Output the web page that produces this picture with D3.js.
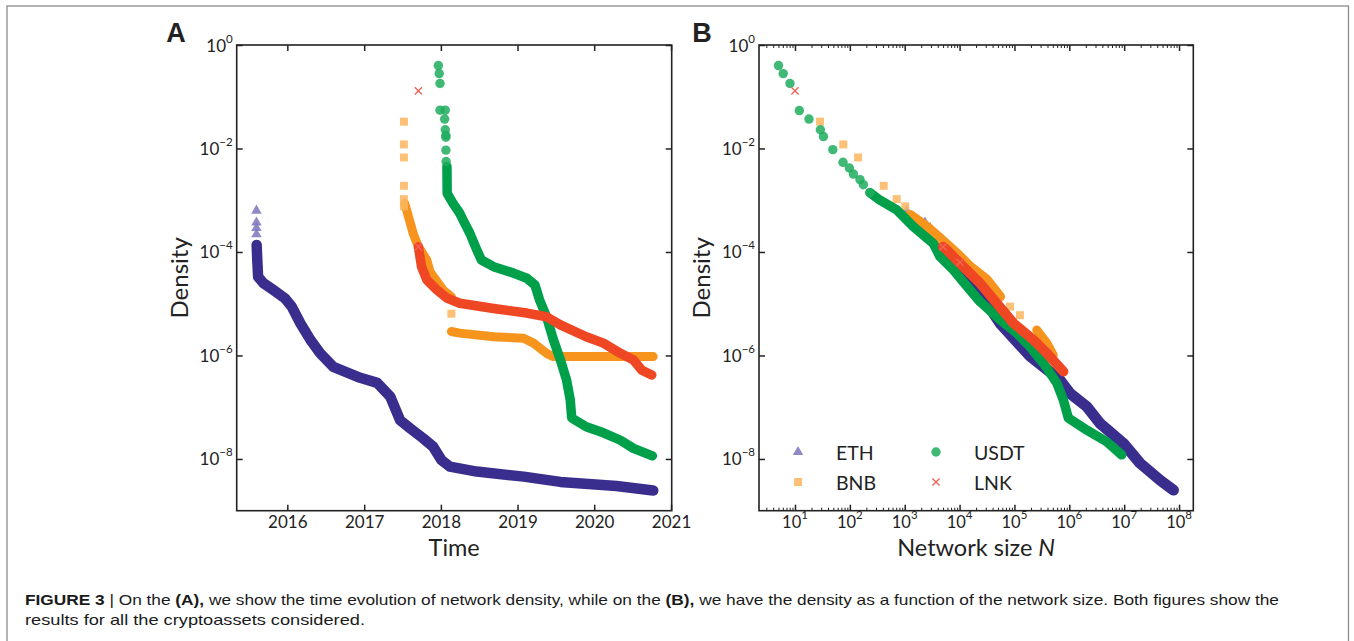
<!DOCTYPE html>
<html>
<head>
<meta charset="utf-8">
<script src="https://cdn.jsdelivr.net/npm/d3@7"></script>
<style>
body { margin: 0; background: #fff; }
text { font-family: Lato, "Open Sans", sans-serif; fill: #222; }
text.caption { font-family: "Liberation Sans", Arial, sans-serif; fill: #1a1a1a; }
</style>
</head>
<body>
<script>
// ---- panel A: density over time (sparse markers + dense trace) ----
var ethTimeDots = [["2015-08-07",6.3e-4],["2015-08-07",3.7e-4],["2015-08-07",2.9e-4],["2015-08-07",2.2e-4]];
var ethTimeTrace = [["2015-08-08",1.37e-4],["2015-08-11",7.0e-5],["2015-08-15",3.3e-5],["2015-09-09",2.5e-5],
  ["2015-10-26",1.85e-5],["2015-12-20",1.28e-5],["2016-01-22",8.8e-6],["2016-03-03",4.2e-6],["2016-04-20",2.0e-6],
  ["2016-06-06",1.1e-6],["2016-08-07",6.0e-7],["2016-12-13",3.7e-7],["2017-03-04",2.95e-7],["2017-05-05",1.6e-7],
  ["2017-06-21",5.6e-8],["2017-08-08",3.9e-8],["2017-10-09",2.5e-8],["2017-11-25",1.73e-8],["2018-01-04",9.5e-9],
  ["2018-02-13",7.1e-9],["2018-06-21",5.7e-9],["2019-01-30",4.55e-9],["2019-07-24",3.6e-9],["2020-04-16",3.0e-9],
  ["2020-10-08",2.45e-9]];

var bnbTimeDots = [["2017-07-09",3.3e-2],["2017-07-09",1.2e-2],["2017-07-09",6.7e-3],["2017-07-09",1.9e-3],
  ["2017-07-09",1.05e-3],["2017-07-09",7.6e-4],["2018-02-20",6.4e-6]];
var bnbTimeTrace = [["2017-07-13",8.7e-4],["2017-08-04",4.2e-4],["2017-08-22",2.3e-4],["2017-09-16",1.26e-4],
  ["2017-10-26",7.0e-5],["2017-11-10",4.2e-5],["2017-12-13",2.7e-5],["2018-01-11",1.85e-5],["2018-02-20",1.37e-5]];
var bnbTimeTrace2 = [["2018-02-20",2.9e-6],["2018-04-01",2.7e-6],["2018-09-09",2.3e-6],["2019-01-30",2.15e-6],
  ["2019-03-18",1.73e-6],["2019-05-19",1.1e-6],["2019-06-21",9.5e-7],["2020-10-08",9.5e-7]];

var usdtTimeDots = [["2017-12-20",0.40],["2017-12-24",0.28],["2017-12-28",0.18],["2017-12-28",0.055],
  ["2018-01-22",0.055],["2018-01-19",0.037],["2018-01-22",0.023],["2018-01-25",0.018],["2018-01-25",0.0165],
  ["2018-01-25",0.0093],["2018-01-26",0.0056]];
var usdtTimeTrace = [["2018-01-30",4.5e-3],["2018-01-31",1.36e-3],["2018-02-28",8.7e-4],["2018-04-01",5.6e-4],
  ["2018-04-16",4.2e-4],["2018-05-19",2.3e-4],["2018-06-21",1.1e-4],["2018-07-13",7.0e-5],["2018-09-09",5.2e-5],
  ["2018-12-13",3.9e-5],["2019-02-14",3.1e-5],["2019-03-25",2.3e-5],["2019-04-16",1.18e-5],["2019-05-19",5.6e-6],
  ["2019-06-21",2.0e-6],["2019-07-24",8.2e-7],["2019-08-22",3.4e-7],["2019-09-09",1.38e-7],["2019-09-16",6.2e-8],
  ["2019-11-24",4.2e-8],["2020-02-14",3.2e-8],["2020-05-05",2.3e-8],["2020-07-06",1.6e-8],["2020-10-04",1.15e-8]];

var lnkTimeDots = [["2017-09-16",0.13],["2017-09-16",1.26e-4]];
var lnkTimeTrace = [["2017-09-16",1.26e-4],["2017-10-01",5.2e-5],["2017-10-26",2.9e-5],["2017-12-13",1.85e-5],
  ["2018-01-30",1.28e-5],["2018-04-01",1.02e-5],["2018-09-09",8.1e-6],["2019-02-14",6.6e-6],["2019-05-19",5.6e-6],
  ["2019-07-24",3.9e-6],["2019-11-24",2.3e-6],["2020-02-14",1.73e-6],["2020-05-05",1.1e-6],["2020-07-06",8.2e-7],
  ["2020-08-15",5.2e-7],["2020-10-01",4.2e-7]];

// ---- panel B: density vs network size N ----
var ethSizeDots = [[1090,6.3e-4],[2340,3.7e-4],[2900,2.9e-4],[3700,2.2e-4]];
var ethSizeTrace = [[5000,1.37e-4],[11700,3.9e-5],[23500,1.6e-5],[54600,4.2e-6],[1.9e5,9.8e-7],[6.7e5,3.4e-7],
  [1.03e6,1.85e-7],[2.1e6,1.02e-7],[3.6e6,4.9e-8],[9.7e6,2.0e-8],[1.94e7,8.3e-9],[4.5e7,3.9e-9],[7.9e7,2.5e-9]];

var bnbSizeDots = [[28.6,3.3e-2],[76,1.2e-2],[141,6.7e-3],[414,1.9e-3],[715,1.05e-3],[1024,7.6e-4],
  [83000,8.8e-6],[126000,6.0e-6]];
var bnbSizeTrace = [[1250,5.2e-4],[2500,3.1e-4],[4400,1.84e-4],[8900,9.4e-5],[15600,5.2e-5],[31300,2.9e-5],[54600,1.37e-5]];
var bnbSizeTrace2 = [[2.55e5,3.1e-6],[3.9e5,1.73e-6],[5.1e5,1.02e-6]];

var usdtSizeDots = [[5.0,0.40],[6.1,0.28],[8.1,0.18],[12,0.054],[18,0.037],[29,0.023],[33,0.017],[49,0.0095],
  [75,0.0054],[98,0.0042],[116,0.0032],[153,0.0025],[176,0.002],[233,0.0014]];
var usdtSizeTrace = [[233,1.4e-3],[355,1.0e-3],[715,6.5e-4],[1435,3.1e-4],[3300,1.47e-4],[4400,8.1e-5],[7700,4.5e-5],
  [15500,1.85e-5],[23500,1.1e-5],[54600,4.9e-6],[110000,2.7e-6],[192000,1.48e-6],[336000,7.1e-7],[590000,2.95e-7],
  [780000,1.38e-7],[960000,6.2e-8],[2.1e6,3.6e-8],[4.8e6,2.15e-8],[9.0e6,1.2e-8]];

var lnkSizeDots = [[10,0.13],[5000,1.26e-4],[10200,6.3e-5]];
var lnkSizeTrace = [[5000,1.26e-4],[5800,1.1e-4],[11700,5.2e-5],[23500,2.5e-5],[47500,1.02e-5],[96000,4.2e-6],
  [221000,2.0e-6],[390000,1.1e-6],[780000,4.9e-7]];

var yearTicks = [2016, 2017, 2018, 2019, 2020, 2021];
var densityTicks = [1, 1e-2, 1e-4, 1e-6, 1e-8];
var sizeTicks = [1e1, 1e2, 1e3, 1e4, 1e5, 1e6, 1e7, 1e8];
var legendNames = ["ETH", "BNB", "USDT", "LNK"];

var solid = {ETH: "#392e8e", BNB: "#f7941e", USDT: "#00a04b", LNK: "#ef4623"};
var light = {ETH: "#7b76bb", BNB: "#fbb65f", USDT: "#1fad5e", LNK: "#f26556"};

var parseDay = d3.timeParse("%Y-%m-%d");

var svg = d3.select("body").append("svg")
  .attr("width", 1354)
  .attr("height", 641);

// outer figure border
svg.append("rect")
  .attr("x", 7).attr("y", 6)
  .attr("width", 1341.5).attr("height", 700)
  .attr("fill", "none")
  .attr("stroke", "#8c8c8c")
  .attr("stroke-width", 1.3);

var boxA = {left: 236.7, top: 45, right: 671.7, bottom: 510.7};
var boxB = {left: 759, top: 45, right: 1193.3, bottom: 510.7};

var xA = d3.scaleTime()
  .domain([new Date(2015, 4, 5), new Date(2021, 0, 4)])
  .range([boxA.left, boxA.right]);
var yA = d3.scaleLog().domain([1e-9, 1]).range([boxA.bottom, boxA.top]);

var xB = d3.scaleLog()
  .domain([Math.pow(10, 0.344), Math.pow(10, 8.26)])
  .range([boxB.left, boxB.right]);
var yB = d3.scaleLog().domain([1e-9, 1]).range([boxB.bottom, boxB.top]);

function supLabel(sel, base, exp) {
  sel.append("tspan").text(base);
  sel.append("tspan").attr("dy", -9).style("font-size", "11.5px").text(exp);
}

function expOf(v) {
  var e = Math.round(Math.log10(v));
  return e < 0 ? "\u2212" + (-e) : "" + e;
}

// y axes (shared style for both panels)
function drawY(box, y) {
  svg.append("g")
    .attr("transform", "translate(" + box.left + ",0)")
    .call(d3.axisLeft(y).tickValues(densityTicks).tickSizeInner(-6).tickSizeOuter(0).tickFormat(""))
    .call(function(g) { g.select(".domain").remove(); })
    .selectAll("line").attr("stroke", "#222").attr("stroke-width", 1.5);
  svg.append("g")
    .attr("transform", "translate(" + box.right + ",0)")
    .call(d3.axisRight(y).tickValues(densityTicks).tickSizeInner(-6).tickSizeOuter(0).tickFormat(""))
    .call(function(g) { g.select(".domain").remove(); })
    .selectAll("line").attr("stroke", "#222").attr("stroke-width", 1.5);

  densityTicks.forEach(function(v) {
    var t = svg.append("text")
      .attr("x", box.left - 4)
      .attr("y", y(v) + 6.5)
      .attr("text-anchor", "end")
      .style("font-size", "17px");
    supLabel(t, "10", expOf(v));
  });

  svg.append("text")
    .attr("transform", "translate(" + (box.left - 49) + "," + ((box.top + box.bottom) / 2) + ")rotate(-90)")
    .attr("text-anchor", "middle")
    .style("font-size", "24px")
    .text("Density");
}

drawY(boxA, yA);
drawY(boxB, yB);

// panel A x axis
svg.append("g")
  .attr("transform", "translate(0," + boxA.bottom + ")")
  .call(d3.axisBottom(xA).tickValues(yearTicks.map(function(d) { return new Date(d, 0, 1); }))
    .tickSizeInner(-6).tickSizeOuter(0).tickPadding(5).tickFormat(d3.timeFormat("%Y")))
  .call(function(g) { g.select(".domain").remove(); })
  .call(function(g) { g.selectAll("line").attr("stroke", "#222").attr("stroke-width", 1.5); })
  .selectAll("text")
  .style("font-size", "17px")
  .style("font-family", "Lato, sans-serif")
  .attr("fill", "#222");

svg.append("g")
  .attr("transform", "translate(0," + boxA.top + ")")
  .call(d3.axisTop(xA).tickValues(yearTicks.map(function(d) { return new Date(d, 0, 1); }))
    .tickSizeInner(-6).tickSizeOuter(0).tickFormat(""))
  .call(function(g) { g.select(".domain").remove(); })
  .selectAll("line").attr("stroke", "#222").attr("stroke-width", 1.5);

svg.append("text")
  .attr("x", (boxA.left + boxA.right) / 2)
  .attr("y", 556)
  .attr("text-anchor", "middle")
  .style("font-size", "23.5px")
  .text("Time");

// panel B x axis, major + minor ticks
var minorTicks = [];
for (var e = 0; e <= 8; e++) {
  for (var k = 2; k <= 9; k++) {
    var v = k * Math.pow(10, e);
    if (v > xB.domain()[0] && v < xB.domain()[1]) minorTicks.push(v);
  }
}

[["bottom", boxB.bottom], ["top", boxB.top]].forEach(function(side) {
  var mk = side[0] == "bottom" ? d3.axisBottom : d3.axisTop;
  svg.append("g")
    .attr("transform", "translate(0," + side[1] + ")")
    .call(mk(xB).tickValues(sizeTicks).tickSizeInner(-6).tickSizeOuter(0).tickFormat(""))
    .call(function(g) { g.select(".domain").remove(); })
    .selectAll("line").attr("stroke", "#222").attr("stroke-width", 1.5);
  svg.append("g")
    .attr("transform", "translate(0," + side[1] + ")")
    .call(mk(xB).tickValues(minorTicks).tickSizeInner(-3).tickSizeOuter(0).tickFormat(""))
    .call(function(g) { g.select(".domain").remove(); })
    .selectAll("line").attr("stroke", "#222").attr("stroke-width", 1);
});

sizeTicks.forEach(function(v) {
  var t = svg.append("text")
    .attr("x", xB(v))
    .attr("y", 528)
    .attr("text-anchor", "middle")
    .style("font-size", "16.5px");
  supLabel(t, "10", expOf(v));
});

var nl = svg.append("text")
  .attr("x", (boxB.left + boxB.right) / 2)
  .attr("y", 556)
  .attr("text-anchor", "middle")
  .style("font-size", "23.5px");
nl.append("tspan").text("Network size ");
nl.append("tspan").style("font-style", "italic").text("N");

// frames
[boxA, boxB].forEach(function(b) {
  svg.append("rect")
    .attr("x", b.left).attr("y", b.top)
    .attr("width", b.right - b.left).attr("height", b.bottom - b.top)
    .attr("fill", "none")
    .attr("stroke", "#222")
    .attr("stroke-width", 1.6);
});

// markers
function crossPath(s) {
  return "M" + (-s) + "," + (-s) + "L" + s + "," + s + "M" + (-s) + "," + s + "L" + s + "," + (-s);
}
var shapes = {
  ETH: d3.symbol().type(d3.symbolTriangle).size(48)(),
  BNB: d3.symbol().type(d3.symbolSquare).size(64)(),
  USDT: d3.symbol().type(d3.symbolCircle).size(70)()
};

function drawDots(g, pts, name, x, y) {
  var sel = g.selectAll(null).data(pts).enter().append("path")
    .attr("transform", function(d) { return "translate(" + x(d[0]) + "," + y(d[1]) + ")"; });
  if (name == "LNK") {
    sel.attr("d", crossPath(3.6)).attr("fill", "none")
      .attr("stroke", light[name]).attr("stroke-width", 1.4);
  } else {
    sel.attr("d", shapes[name]).attr("fill", light[name]).attr("fill-opacity", 0.85);
  }
}

function drawTrace(g, pts, name, x, y, w) {
  g.append("path")
    .datum(pts)
    .attr("d", d3.line().x(function(d) { return x(d[0]); }).y(function(d) { return y(d[1]); }))
    .attr("fill", "none")
    .attr("stroke", solid[name])
    .attr("stroke-width", w)
    .attr("stroke-linejoin", "round")
    .attr("stroke-linecap", "round");
}

var gA = svg.append("g");
var xAd = function(s) { return xA(parseDay(s)); };
drawTrace(gA, ethTimeTrace, "ETH", xAd, yA, 10.5);
drawDots(gA, ethTimeDots, "ETH", xAd, yA);
drawTrace(gA, bnbTimeTrace, "BNB", xAd, yA, 9);
drawTrace(gA, bnbTimeTrace2, "BNB", xAd, yA, 9);
drawDots(gA, bnbTimeDots, "BNB", xAd, yA);
drawTrace(gA, usdtTimeTrace, "USDT", xAd, yA, 9.5);
drawDots(gA, usdtTimeDots, "USDT", xAd, yA);
drawTrace(gA, lnkTimeTrace, "LNK", xAd, yA, 9.5);
drawDots(gA, lnkTimeDots, "LNK", xAd, yA);

var gB = svg.append("g");
drawTrace(gB, ethSizeTrace, "ETH", xB, yB, 11);
drawDots(gB, ethSizeDots, "ETH", xB, yB);
drawTrace(gB, bnbSizeTrace, "BNB", xB, yB, 10);
drawTrace(gB, bnbSizeTrace2, "BNB", xB, yB, 9);
drawDots(gB, bnbSizeDots, "BNB", xB, yB);
drawTrace(gB, usdtSizeTrace, "USDT", xB, yB, 9.5);
drawDots(gB, usdtSizeDots, "USDT", xB, yB);
drawTrace(gB, lnkSizeTrace, "LNK", xB, yB, 10);
drawDots(gB, lnkSizeDots, "LNK", xB, yB);

// legend (two columns)
var legend = svg.append("g");
legendNames.forEach(function(name, i) {
  var cx = i < 2 ? 798 : 936;
  var cy = i % 2 == 0 ? 452 : 482;
  var p = legend.append("path").attr("transform", "translate(" + cx + "," + cy + ")");
  if (name == "LNK") {
    p.attr("d", crossPath(3.6)).attr("fill", "none").attr("stroke", light[name]).attr("stroke-width", 1.4);
  } else {
    p.attr("d", shapes[name]).attr("fill", light[name]).attr("fill-opacity", 0.85);
  }
  legend.append("text")
    .attr("x", cx + 38)
    .attr("y", cy + 7.5)
    .style("font-size", "19.5px")
    .text(name);
});

// panel letters
svg.append("text").attr("x", 176).attr("y", 41.5).attr("text-anchor", "middle")
  .style("font-family", "Liberation Sans, Arial, sans-serif").style("font-weight", "bold")
  .style("font-size", "27px").attr("fill", "#000").text("A");
svg.append("text").attr("x", 702).attr("y", 41.5).attr("text-anchor", "middle")
  .style("font-family", "Liberation Sans, Arial, sans-serif").style("font-weight", "bold")
  .style("font-size", "27px").attr("fill", "#000").text("B");

// caption
var cap1 = svg.append("text").attr("class", "caption")
  .attr("x", 25).attr("y", 605)
  .attr("textLength", 1254).attr("lengthAdjust", "spacingAndGlyphs")
  .style("font-size", "15px");
cap1.append("tspan").style("font-weight", "bold").text("FIGURE 3");
cap1.append("tspan").text(" | On the ");
cap1.append("tspan").style("font-weight", "bold").text("(A),");
cap1.append("tspan").text(" we show the time evolution of network density, while on the ");
cap1.append("tspan").style("font-weight", "bold").text("(B),");
cap1.append("tspan").text(" we have the density as a function of the network size. Both figures show the");

svg.append("text").attr("class", "caption")
  .attr("x", 25).attr("y", 625)
  .attr("textLength", 340).attr("lengthAdjust", "spacingAndGlyphs")
  .style("font-size", "15px")
  .text("results for all the cryptoassets considered.");
</script>
</body>
</html>
